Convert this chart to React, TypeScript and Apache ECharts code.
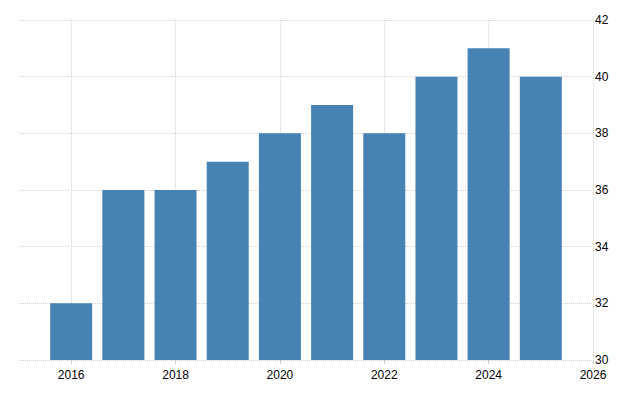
import React, { useEffect, useRef } from 'react'
import * as echarts from 'echarts'

const years = ['2015', '2016', '2017', '2018', '2019', '2020', '2021', '2022', '2023', '2024', '2025', '2026']
const values: (number | string)[] = ['-', 32, 36, 36, 37, 38, 39, 38, 40, 41, 40, '-']
const yMin = 30
const yMax = 42
const yStep = 2

const evenYear = (i: number) => parseInt(years[i], 10) % 2 === 0

export default function App(): JSX.Element {
  const ref = useRef<HTMLDivElement>(null)

  useEffect(() => {
    if (!ref.current) return
    const chart = echarts.init(ref.current, undefined, { renderer: 'svg' })
    chart.setOption({
      animation: false,
      grid: { left: 19, right: 47, top: 20, bottom: 40 },
      xAxis: {
        type: 'category',
        data: years,
        boundaryGap: false,
        axisLine: { show: false },
        axisTick: {
          show: true,
          length: 4,
          interval: (i: number) => evenYear(i),
          lineStyle: { color: '#cccccc' },
        },
        axisLabel: {
          interval: (i: number) => evenYear(i),
          color: '#000',
          fontFamily: 'Arial, Liberation Sans, sans-serif',
          fontSize: 12,
          margin: 9,
        },
        splitLine: {
          show: true,
          interval: (i: number) => evenYear(i),
          lineStyle: { color: '#d0d0d0', type: 'dotted' },
        },
      },
      yAxis: {
        type: 'value',
        position: 'right',
        min: yMin,
        max: yMax,
        interval: yStep,
        axisLine: { show: false },
        axisTick: { show: false },
        axisLabel: {
          color: '#000',
          fontFamily: 'Arial, Liberation Sans, sans-serif',
          fontSize: 12,
          margin: 2,
        },
        splitLine: { lineStyle: { color: '#d0d0d0', type: 'dotted' } },
      },
      series: [
        {
          type: 'bar',
          data: values,
          barWidth: 42,
          itemStyle: { color: '#4682b4' },
        },
      ],
    })
    return () => chart.dispose()
  }, [])

  return <div ref={ref} style={{ position: 'absolute', left: 0, top: 0, width: 640, height: 400 }} />
}
